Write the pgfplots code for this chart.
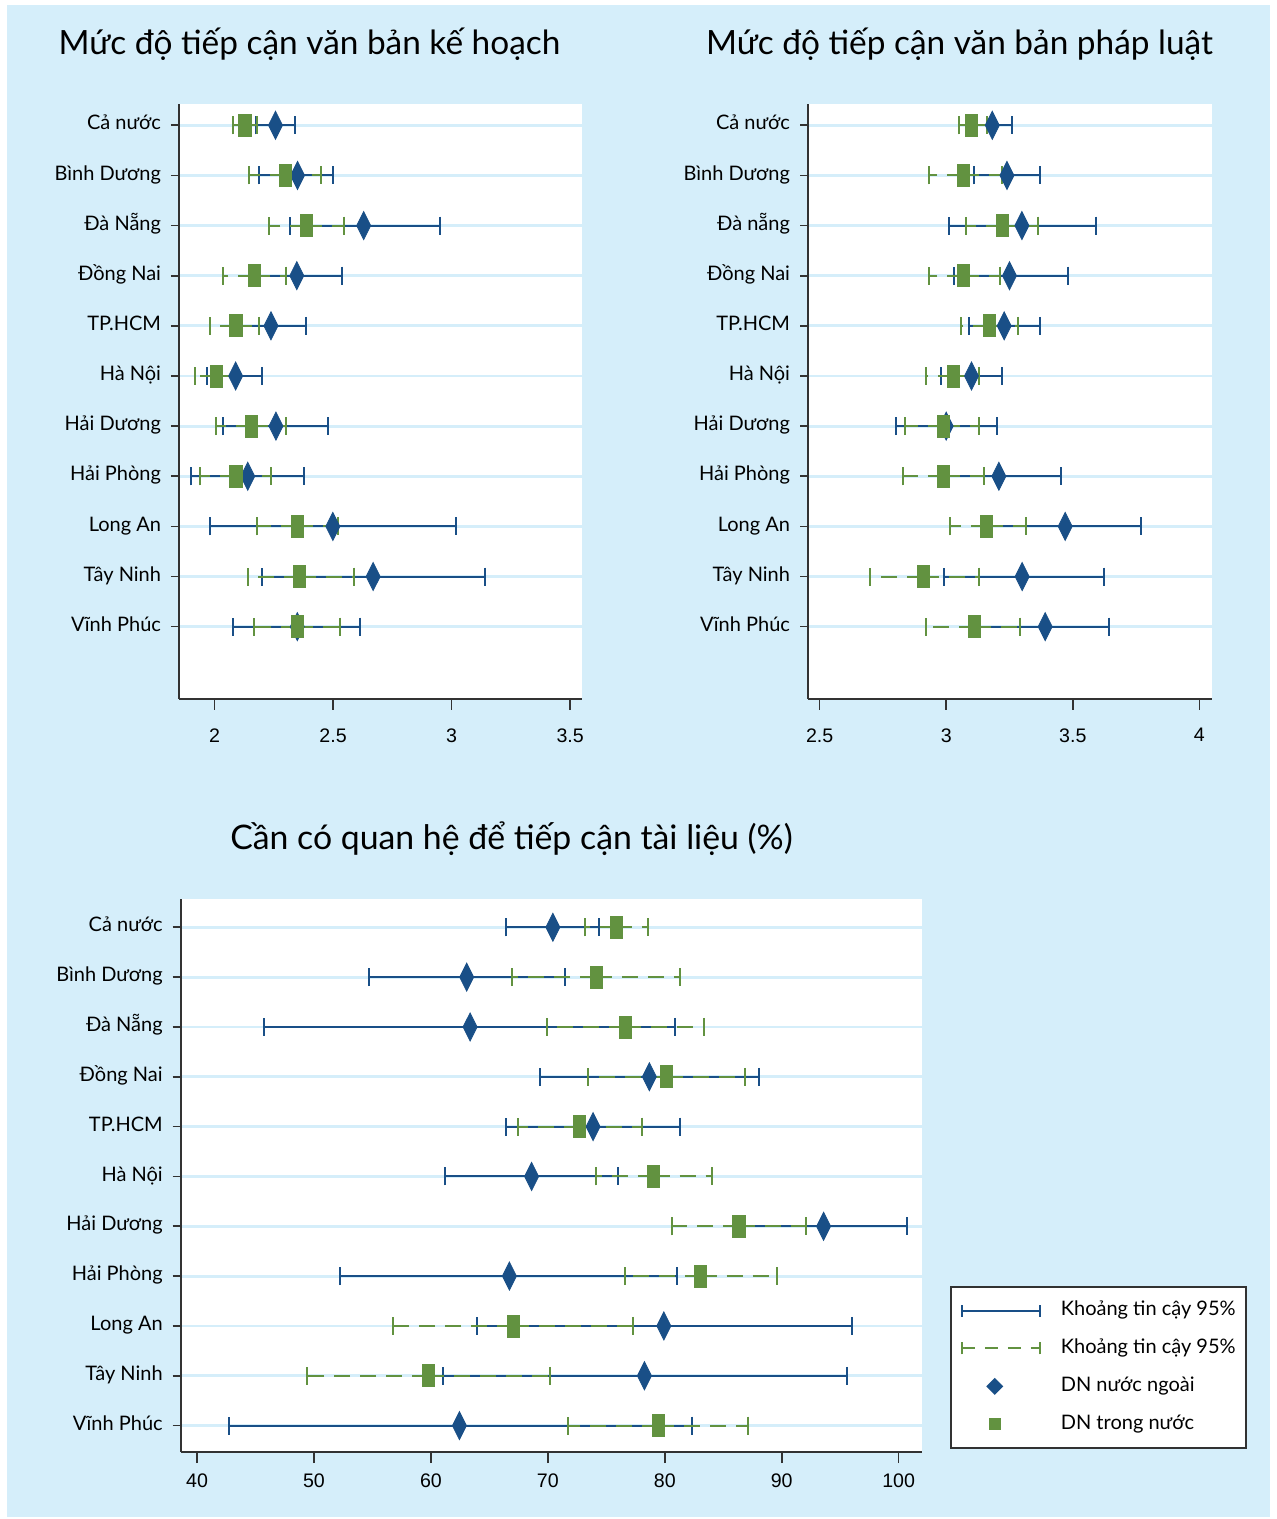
\documentclass[border=0pt]{standalone}
\usepackage{fontspec}
\setmainfont{Lato}
\newfontfamily\tickfont{Liberation Sans}
\usepackage{pgfplots}
\pgfplotsset{compat=1.18}
\usepackage{pgfplotstable}
\definecolor{bgblue}{RGB}{213,238,250}
\definecolor{dnblue}{RGB}{25,79,135}
\definecolor{dngreen}{RGB}{98,146,64}
\definecolor{axgray}{RGB}{50,50,50}

% y bm blo bhi gm glo ghi   (b = DN nuoc ngoai, g = DN trong nuoc)
\pgfplotstableread{
y bm blo bhi gm glo ghi
11 2.257 2.175 2.339 2.128 2.078 2.180
10 2.350 2.188 2.500 2.300 2.146 2.449
9 2.629 2.318 2.949 2.387 2.228 2.547
8 2.347 2.160 2.538 2.167 2.036 2.300
7 2.238 2.090 2.387 2.090 1.980 2.188
6 2.089 1.966 2.200 2.008 1.917 2.095
5 2.259 2.036 2.478 2.157 2.008 2.300
4 2.140 1.899 2.378 2.090 1.938 2.239
3 2.499 1.979 3.018 2.349 2.180 2.520
2 2.669 2.200 3.140 2.359 2.139 2.588
1 2.349 2.079 2.612 2.349 2.167 2.530
}\tabA
\pgfplotstableread{
y bm blo bhi gm glo ghi
11 3.182 3.100 3.260 3.100 3.050 3.162
10 3.240 3.110 3.369 3.068 2.930 3.221
9 3.299 3.011 3.590 3.221 3.080 3.361
8 3.250 3.030 3.482 3.068 2.930 3.213
7 3.229 3.090 3.369 3.170 3.060 3.282
6 3.100 2.981 3.220 3.030 2.920 3.130
5 3.000 2.800 3.200 2.990 2.839 3.130
4 3.208 2.970 3.452 2.990 2.831 3.151
3 3.470 3.170 3.770 3.160 3.013 3.314
2 3.300 2.990 3.622 2.909 2.700 3.130
1 3.391 3.130 3.644 3.112 2.922 3.291
}\tabB
\pgfplotstableread{
y bm blo bhi gm glo ghi
11 70.43 66.42 74.41 75.86 73.17 78.55
10 63.06 54.70 71.43 74.12 66.96 81.33
9 63.35 45.71 80.91 76.60 69.90 83.35
8 78.68 69.32 88.03 80.17 73.42 86.87
7 73.87 66.42 81.33 72.71 67.41 78.01
6 68.61 61.24 76.02 79.05 74.12 84.06
5 93.58 86.50 100.75 86.34 80.58 92.09
4 66.71 52.22 81.08 83.06 76.56 89.57
3 79.92 63.93 96.02 67.04 56.77 77.31
2 78.26 60.99 95.57 59.75 49.44 70.19
1 62.44 42.69 82.32 79.46 71.72 87.12
}\tabC

\pgfplotsset{
  panel/.style={
    scale only axis, enlargelimits=false, clip=false,
    axis lines*=left,
    axis line style={axgray, line width=0.85pt},
    axis background/.style={fill=white},
    tick align=outside,
    xtick style={axgray, line width=0.8pt, /pgfplots/major tick length=5.5pt},
    ytick style={axgray, line width=0.8pt, /pgfplots/major tick length=4pt},
    ytick={1,...,11},
    ymajorgrids, major grid style={bgblue, line width=1.4pt},
    yticklabel style={font=\fontsize{10}{12}\selectfont, anchor=base east, yshift=-2.35pt},
    xticklabel style={font=\tickfont\fontsize{9.8}{11}\selectfont},
    xticklabel shift=3.7pt, yticklabel shift=1.2pt,
    /pgf/number format/assume math mode=true,
  },
  fplot/.style={only marks, mark=diamond*, mark size=7pt, color=dnblue, forget plot,
     mark options={xscale=0.667, solid, fill=dnblue, draw=dnblue},
     error bars/x dir=both, error bars/x explicit,
     error bars/error bar style={line width=1pt, solid, dnblue},
     error bars/error mark options={rotate=90, mark size=4.5pt, line width=1pt, dnblue, solid}},
  dplot/.style={only marks, mark=square*, mark size=5.5pt, color=dngreen, forget plot,
     mark options={xscale=0.55, solid, fill=dngreen, draw=dngreen},
     error bars/x dir=both, error bars/x explicit,
     error bars/error bar style={line width=1pt, dngreen, dash pattern=on 8pt off 5pt},
     error bars/error mark options={rotate=90, mark size=4.5pt, line width=1pt, dngreen, solid}},
}

\begin{document}
\begin{tikzpicture}
\fill[white] (0pt,0pt) rectangle (638.5pt,759.5pt);
\fill[bgblue] (3.5pt,1pt) rectangle (635pt,757pt);

\node[anchor=base, font=\fontsize{16.7}{20}\selectfont] at (154.75pt,732.35pt) {Mức độ tiếp cận văn bản kế hoạch};
\node[anchor=base, font=\fontsize{16.7}{20}\selectfont] at (479.75pt,732.35pt) {Mức độ tiếp cận văn bản pháp luật};
\node[anchor=base, font=\fontsize{16.9}{20}\selectfont] at (255.75pt,334.85pt) {Cần có quan hệ để tiếp cận tài liệu (\%)};

% Panel 1
\begin{axis}[panel, at={(89.5pt,410pt)}, anchor=south west,
  width=201.5pt, height=297.5pt,
  xmin=1.85, xmax=3.55, ymin=-0.442, ymax=11.425,
  xtick={2,2.5,3,3.5}, xticklabel shift=6.9pt,
  yticklabels={Vĩnh Phúc,Tây Ninh,Long An,Hải Phòng,Hải Dương,Hà Nội,TP.HCM,Đồng Nai,Đà Nẵng,Bình Dương,Cả nước}]
\addplot[fplot] table[x=bm, y=y, x error plus expr=\thisrow{bhi}-\thisrow{bm}, x error minus expr=\thisrow{bm}-\thisrow{blo}] {\tabA};
\addplot[dplot] table[x=gm, y=y, x error plus expr=\thisrow{ghi}-\thisrow{gm}, x error minus expr=\thisrow{gm}-\thisrow{glo}] {\tabA};
\end{axis}

% Panel 2
\begin{axis}[panel, at={(404pt,410pt)}, anchor=south west,
  width=202pt, height=297.5pt,
  xmin=2.454, xmax=4.05, ymin=-0.442, ymax=11.425,
  xtick={2.5,3,3.5,4}, xticklabel shift=6.9pt,
  yticklabels={Vĩnh Phúc,Tây Ninh,Long An,Hải Phòng,Hải Dương,Hà Nội,TP.HCM,Đồng Nai,Đà nẵng,Bình Dương,Cả nước}]
\addplot[fplot] table[x=bm, y=y, x error plus expr=\thisrow{bhi}-\thisrow{bm}, x error minus expr=\thisrow{bm}-\thisrow{blo}] {\tabB};
\addplot[dplot] table[x=gm, y=y, x error plus expr=\thisrow{ghi}-\thisrow{gm}, x error minus expr=\thisrow{gm}-\thisrow{glo}] {\tabB};
\end{axis}

% Panel 3
\begin{axis}[panel, at={(90.35pt,33.5pt)}, anchor=south west,
  width=370.65pt, height=276.3pt,
  xmin=38.6, xmax=102, ymin=0.47, ymax=11.56,
  xtick={40,50,...,100}, xticklabel shift=3.2pt,
  yticklabels={Vĩnh Phúc,Tây Ninh,Long An,Hải Phòng,Hải Dương,Hà Nội,TP.HCM,Đồng Nai,Đà Nẵng,Bình Dương,Cả nước},
  legend cell align=left,
  legend style={at={(1.0378,0.3004)}, anchor=north west, draw=axgray, line width=0.8pt, fill=white,
    inner xsep=5pt, inner ysep=7pt, row sep=9.15pt, column sep=10pt,
    nodes={inner sep=0pt, text height=7.5pt, text depth=2.3pt, font=\fontsize{10}{12}\selectfont}}]
\addplot[fplot] table[x=bm, y=y, x error plus expr=\thisrow{bhi}-\thisrow{bm}, x error minus expr=\thisrow{bm}-\thisrow{blo}] {\tabC};
\addplot[dplot] table[x=gm, y=y, x error plus expr=\thisrow{ghi}-\thisrow{gm}, x error minus expr=\thisrow{gm}-\thisrow{glo}] {\tabC};
\addlegendimage{legend image code/.code={
  \draw[dnblue, line width=1pt] (0pt,0pt) -- (39pt,0pt);
  \draw[dnblue, line width=1pt] (0pt,-3pt) -- (0pt,3pt) (39pt,-3pt) -- (39pt,3pt);}}
\addlegendentry{Khoảng tin cậy 95\%}
\addlegendimage{legend image code/.code={
  \draw[dngreen, line width=1pt, dash pattern=on 6.5pt off 5pt] (0pt,0pt) -- (39pt,0pt);
  \draw[dngreen, line width=1pt] (0pt,-3pt) -- (0pt,3pt) (39pt,-3pt) -- (39pt,3pt);}}
\addlegendentry{Khoảng tin cậy 95\%}
\addlegendimage{legend image code/.code={
  \path[draw=none, fill=none] (0pt,0pt) -- (39pt,0pt);
  \fill[dnblue, draw=none] (16.5pt,4.25pt) -- (20.75pt,0pt) -- (16.5pt,-4.25pt) -- (12.25pt,0pt) -- cycle;}}
\addlegendentry{DN nước ngoài}
\addlegendimage{legend image code/.code={
  \path[draw=none, fill=none] (0pt,0pt) -- (39pt,0pt);
  \fill[dngreen, draw=none] (13.5pt,-3pt) rectangle (19.5pt,3pt);}}
\addlegendentry{DN trong nước}
\end{axis}
\end{tikzpicture}
\end{document}
